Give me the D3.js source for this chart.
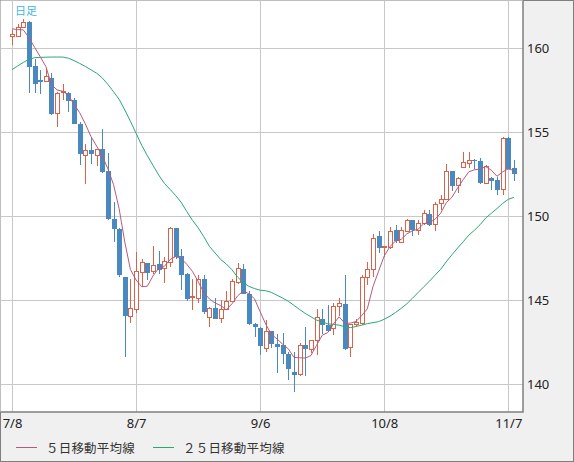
<!DOCTYPE html>
<html>
<head>
<meta charset="utf-8">
<script src="https://cdn.jsdelivr.net/npm/d3@7"></script>
<style>
  body { margin: 0; background: #f0f0f0; }
  svg { display: block; }
  text { font-family: "Noto Sans", "DejaVu Sans", sans-serif; }
</style>
</head>
<body>
<div id="chart"></div>
<script>
// daily candles 7/8 - 11/8
var dates = ["7/8","7/9","7/10","7/11","7/12","7/15","7/16","7/17","7/18","7/19",
  "7/22","7/23","7/24","7/25","7/26","7/29","7/30","7/31","8/1","8/2",
  "8/5","8/6","8/7","8/8","8/9","8/12","8/13","8/14","8/15","8/16",
  "8/19","8/20","8/21","8/22","8/23","8/26","8/27","8/28","8/29","8/30",
  "9/2","9/3","9/4","9/5","9/6","9/9","9/10","9/11","9/12","9/13",
  "9/16","9/17","9/18","9/19","9/20","9/23","9/24","9/25","9/26","9/27",
  "9/30","10/1","10/2","10/3","10/4","10/7","10/8","10/9","10/10","10/11",
  "10/14","10/15","10/16","10/17","10/18","10/21","10/22","10/23","10/24","10/25",
  "10/28","10/29","10/30","10/31","11/1","11/4","11/5","11/6","11/7","11/8"];

var open = [160.72,160.73,161.23,161.55,158.93,158.10,158.02,158.25,156.11,157.35,
  157.32,156.90,155.52,153.61,153.93,153.61,153.99,152.68,149.86,149.27,
  146.39,144.05,144.45,146.65,147.20,146.73,147.14,146.89,147.24,149.29,
  147.62,146.59,145.15,145.10,146.29,143.97,144.54,143.91,144.44,144.94,
  146.03,146.89,145.40,143.61,143.37,142.12,143.15,142.42,142.32,141.79,
  140.74,140.58,142.32,142.07,142.58,143.87,143.55,143.30,144.64,144.76,
  142.18,143.55,143.61,146.35,146.85,148.81,148.14,148.12,149.17,148.47,
  149.11,149.76,149.17,149.56,150.16,149.50,150.75,150.99,152.68,151.85,
  152.88,153.17,153.33,153.27,151.98,152.28,152.14,151.59,154.66,152.88];

var high = [161.07,161.47,161.77,161.60,159.39,158.69,158.79,158.55,157.40,157.86,
  157.40,157.07,155.60,154.33,154.66,153.99,155.18,153.79,150.85,149.30,
  146.40,146.29,147.88,147.48,147.25,148.21,147.92,147.58,149.37,149.30,
  148.04,146.60,146.25,146.49,146.49,144.60,145.16,145.00,145.56,146.25,
  147.22,147.18,145.54,143.62,143.40,143.81,143.16,143.02,143.05,141.90,
  141.93,142.46,143.41,142.62,144.50,144.46,144.74,144.84,145.14,146.49,
  143.55,143.91,146.49,147.28,148.97,149.11,148.21,149.37,149.51,149.37,
  149.86,149.80,149.76,150.36,150.36,150.85,151.25,153.14,152.70,152.34,
  153.83,153.83,153.43,153.47,153.04,152.34,152.34,154.72,154.72,153.37];

var low = [160.22,160.67,161.20,157.36,157.34,157.30,158.00,156.01,155.32,156.90,
  156.21,155.52,153.04,151.95,153.14,152.99,152.60,149.80,148.47,146.39,
  141.63,143.65,144.25,145.80,146.19,146.59,146.59,146.05,147.00,147.48,
  145.61,144.95,144.40,144.84,144.20,143.41,143.87,143.65,144.40,144.90,
  146.00,145.40,143.55,142.82,141.77,141.93,142.18,140.67,141.23,140.28,
  139.55,140.48,140.48,141.89,141.73,143.02,143.10,142.92,144.07,142.02,
  141.63,143.47,143.55,145.89,146.39,147.84,147.58,148.04,148.39,148.39,
  149.05,148.83,148.91,149.50,149.42,149.11,150.36,150.95,151.49,151.41,
  152.85,152.88,152.84,151.90,151.90,151.55,151.29,151.29,152.80,152.10];

var close = [160.80,161.21,161.53,158.89,157.86,158.00,158.33,156.11,157.30,157.45,
  156.85,155.52,153.73,153.93,153.73,153.97,152.64,149.86,149.27,146.49,
  144.07,144.51,146.73,147.24,146.65,147.10,146.79,147.28,149.27,147.58,
  146.49,145.06,145.22,146.25,144.31,144.54,143.90,144.44,144.94,146.13,
  146.89,145.40,143.61,143.41,142.28,143.15,142.42,142.22,141.83,140.93,
  140.58,142.32,142.12,142.62,143.97,143.55,143.15,144.64,144.80,142.08,
  143.55,143.65,146.35,146.83,148.67,148.14,148.21,149.11,148.51,149.17,
  149.76,149.17,149.56,150.16,149.50,150.70,150.99,152.68,151.79,152.24,
  153.20,153.33,153.29,151.98,152.98,152.10,151.55,154.63,152.84,152.54];

// moving averages
var ma5 = [161.16,161.11,161.10,160.64,160.06,159.50,158.92,157.84,157.52,157.44,
  157.21,156.65,156.17,155.50,154.75,154.18,153.60,152.83,151.89,150.45,
  148.47,146.84,146.21,145.81,145.84,146.45,146.90,147.01,147.42,147.60,
  147.48,147.14,146.72,146.12,145.47,145.08,144.84,144.69,144.43,144.79,
  145.26,145.56,145.39,145.09,144.32,143.57,142.97,142.70,142.38,142.11,
  141.60,141.58,141.56,141.71,142.32,142.92,143.08,143.59,144.02,143.64,
  143.64,143.74,144.09,144.49,145.81,146.73,147.64,148.19,148.53,148.63,
  148.95,149.14,149.23,149.56,149.63,149.82,150.18,150.81,151.13,151.68,
  152.18,152.65,152.77,152.81,152.96,152.74,152.38,152.65,152.82,152.73];

var ma25 = [158.73,158.95,159.16,159.34,159.44,159.46,159.47,159.48,159.48,159.48,
  159.41,159.27,159.10,158.92,158.72,158.52,158.24,157.85,157.42,156.96,
  156.33,155.66,154.94,154.23,153.61,153.03,152.46,151.97,151.61,151.24,
  150.83,150.28,149.76,149.32,148.79,148.21,147.82,147.43,147.16,146.82,
  146.38,146.06,145.83,145.70,145.60,145.57,145.47,145.30,145.13,144.94,
  144.70,144.45,144.22,144.02,143.82,143.71,143.60,143.57,143.52,143.43,
  143.37,143.44,143.52,143.61,143.67,143.73,143.87,144.05,144.27,144.52,
  144.79,145.12,145.46,145.80,146.13,146.49,146.84,147.29,147.71,148.11,
  148.48,148.88,149.17,149.50,149.90,150.18,150.46,150.77,151.01,151.13];

var yTicks = [140, 145, 150, 155, 160];
var xTickIdx = [0, 22, 44, 66, 88];

var W = 574, H = 462;
var plot = { left: 0.5, top: 0.5, right: 523, bottom: 412 };

var svg = d3.select('#chart').append('svg').attr('width', W).attr('height', H);

svg.append('rect').attr('x', 0.5).attr('y', 0.5).attr('width', W - 1).attr('height', H - 1)
  .attr('fill', '#f0f0f0').attr('stroke', '#7f7f7f');

svg.append('rect').attr('x', plot.left).attr('y', plot.top)
  .attr('width', plot.right - plot.left).attr('height', plot.bottom - plot.top)
  .attr('fill', '#ffffff');

var x = d3.scaleLinear().domain([0, 88]).range([12, 508.3]);
var y = d3.scaleLinear().domain([140, 160]).range([384.3, 48.3]);

// grid
var grid = svg.append('g').attr('shape-rendering', 'crispEdges');
grid.selectAll('.gy').data(yTicks).enter().append('line')
  .attr('x1', plot.left).attr('x2', plot.right)
  .attr('y1', function (d) { return Math.round(y(d)) + 0.5; })
  .attr('y2', function (d) { return Math.round(y(d)) + 0.5; })
  .attr('stroke', '#c8c8c8');
grid.selectAll('.gx').data(xTickIdx).enter().append('line')
  .attr('y1', plot.top).attr('y2', plot.bottom)
  .attr('x1', function (d) { return Math.round(x(d)) + 0.5; })
  .attr('x2', function (d) { return Math.round(x(d)) + 0.5; })
  .attr('stroke', '#c8c8c8');

var upColor = '#d8634a', downColor = '#4a88c0';
var idx = d3.range(dates.length);

// candles
var candles = svg.append('g').attr('shape-rendering', 'crispEdges');
var c = candles.selectAll('g').data(idx).enter().append('g');
c.append('line')
  .attr('x1', function (i) { return Math.round(x(i)) + 0.5; })
  .attr('x2', function (i) { return Math.round(x(i)) + 0.5; })
  .attr('y1', function (i) { return y(high[i]); })
  .attr('y2', function (i) { return y(low[i]); })
  .attr('stroke', function (i) { return close[i] >= open[i] ? upColor : downColor; });
c.append('rect')
  .attr('x', function (i) {
    return close[i] >= open[i] ? Math.round(x(i)) - 1.5 : Math.round(x(i)) - 2;
  })
  .attr('width', function (i) { return close[i] >= open[i] ? 4 : 5; })
  .attr('y', function (i) { return y(Math.max(open[i], close[i])); })
  .attr('height', function (i) { return Math.max(1, Math.abs(y(open[i]) - y(close[i]))); })
  .attr('fill', function (i) { return close[i] >= open[i] ? '#ffffff' : downColor; })
  .attr('stroke', function (i) { return close[i] >= open[i] ? upColor : 'none'; });

// moving averages
var line = function (arr) {
  return d3.line().x(function (i) { return x(i); }).y(function (i) { return y(arr[i]); })(idx);
};
svg.append('path').attr('d', line(ma25)).attr('fill', 'none')
  .attr('stroke', '#2aa873').attr('stroke-width', 1);
svg.append('path').attr('d', line(ma5)).attr('fill', 'none')
  .attr('stroke', '#b25c82').attr('stroke-width', 1);

// plot border
svg.append('path')
  .attr('d', 'M' + plot.left + ',' + plot.bottom + 'H' + plot.right + 'V' + plot.top)
  .attr('fill', 'none').attr('stroke', '#7f7f7f').attr('stroke-width', 1.5);

// axes
var yAxis = svg.append('g').attr('transform', 'translate(' + (plot.right + 4) + ',0)')
  .call(d3.axisRight(y).tickValues(yTicks).tickSize(0).tickPadding(0).tickFormat(d3.format('d')));
yAxis.select('.domain').remove();
yAxis.selectAll('text').attr('font-size', 13).attr('fill', '#222')
  .style('font-family', '"Noto Sans", sans-serif');

var xAxis = svg.append('g').attr('transform', 'translate(0,' + (plot.bottom + 7) + ')')
  .call(d3.axisBottom(x).tickValues(xTickIdx).tickSize(0).tickPadding(0)
    .tickFormat(function (i) { return dates[i] === '10/8' || dates[i] === '11/7' ? dates[i] : dates[i]; }));
xAxis.select('.domain').remove();
xAxis.selectAll('text').attr('font-size', 13).attr('fill', '#222')
  .style('font-family', '"Noto Sans", sans-serif');

// label
svg.append('text').attr('x', 15).attr('y', 15).attr('font-size', 11)
  .attr('fill', '#3cb4e8').style('font-family', '"Noto Sans CJK JP", sans-serif').text('日足');

// legend
var legend = [
  { name: '５日移動平均線', color: '#b25c82', x: 16 },
  { name: '２５日移動平均線', color: '#2aa873', x: 153 }
];
var lg = svg.selectAll('.lg').data(legend).enter().append('g');
lg.append('line').attr('x1', function (d) { return d.x; }).attr('x2', function (d) { return d.x + 21; })
  .attr('y1', 447.5).attr('y2', 447.5).attr('stroke', function (d) { return d.color; });
lg.append('text').attr('x', function (d) { return d.x + 30; }).attr('y', 452.5)
  .attr('font-size', 12.5).attr('fill', '#333').attr('letter-spacing', 0.2)
  .style('font-family', '"Noto Sans CJK JP", sans-serif')
  .text(function (d) { return d.name; });
</script>
</body>
</html>
